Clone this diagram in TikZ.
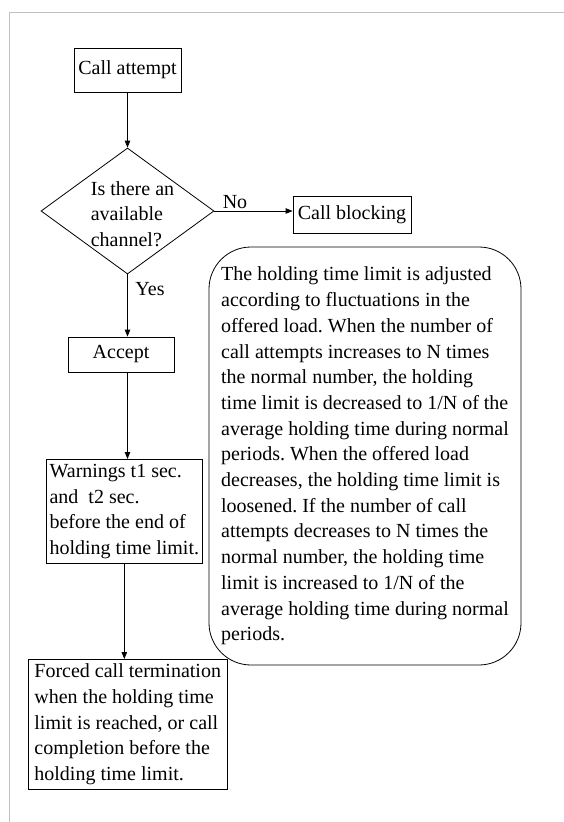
\documentclass[tikz,border=0pt]{standalone}
\usepackage{fontspec}
\setmainfont{Liberation Serif}
\usetikzlibrary{shapes.geometric,arrows.meta}
\frenchspacing
\begin{document}
\begin{tikzpicture}[x=1pt,y=-1pt,
  every node/.style={font=\fontsize{20}{25.7}\selectfont, text=black},
  box/.style={draw=black, line width=0.8pt},
  arr/.style={draw=black, line width=0.8pt, -{Triangle[length=7pt,width=5.5pt]}},
  frameline/.style={draw=black!25, line width=1.5pt}]
\useasboundingbox (0,0) rectangle (564,822);
\draw[frameline] (9.5,822) -- (9.5,12.7) -- (564,12.7);

\node[box, minimum width=107pt, minimum height=44pt, inner sep=0pt] (ca) at (127.5,70) {Call attempt};
\node[box, diamond, minimum width=173pt, minimum height=126pt, inner sep=0pt] (dec) at (127.5,211) {};
\node[align=left] (dectext) at (132.5,214) {Is there an\\available\\channel?};
\node[box, minimum width=118pt, minimum height=37pt, inner sep=0pt] (cb) at (352,214.5) {Call blocking};
\node[box, minimum width=106pt, minimum height=35pt, inner sep=0pt] (acc) at (121,354.5) {Accept};
\node[box, align=left, inner xsep=3.2pt, inner ysep=0pt, minimum height=104pt, anchor=north west] (warn) at (46,459)
  {Warnings t1 sec.\\and~~t2 sec.\\before the end of\\holding time limit.};
\node[box, align=left, inner xsep=6pt, inner ysep=0pt, minimum height=130pt, anchor=north west] (forced) at (28,659)
  {Forced call termination\\when the holding time\\limit is reached, or call\\completion before the\\holding time limit.};
\node[box, rounded corners=42pt, minimum width=312pt, minimum height=418pt, align=left, inner sep=0pt] (note) at (365,456)
  {The holding time limit is adjusted\\according to fluctuations in the\\offered load. When the number of\\call attempts increases to N times\\the normal number, the holding\\time limit is decreased to 1/N of the\\average holding time during normal\\periods. When the offered load\\decreases, the holding time limit is\\loosened. If the number of call\\attempts decreases to N times the\\normal number, the holding time\\limit is increased to 1/N of the\\average holding time during normal\\periods.};

\node[anchor=base, inner sep=0pt] (no) at (235,208) {No};
\node[anchor=base, inner sep=0pt] (yes) at (150,295) {Yes};

\draw[arr] (ca.south) -- (dec.north);
\draw[arr] (dec.east) -- (dec.east -| cb.west);
\draw[arr] (dec.south) -- (dec.south |- acc.north);
\draw[arr] (acc.south -| dec.south) -- (dec.south |- warn.north);
\draw[arr] (warn.south) -- (warn.south |- forced.north);
\end{tikzpicture}
\end{document}
